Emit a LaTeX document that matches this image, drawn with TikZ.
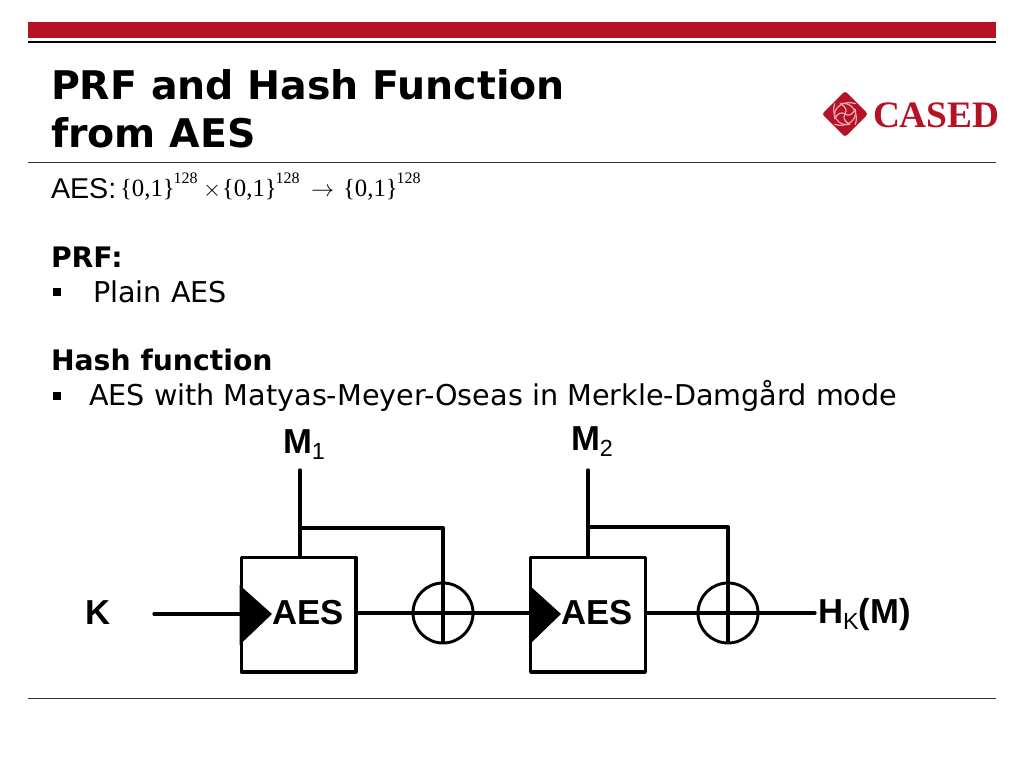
\documentclass[tikz,border=0pt]{standalone}
\usepackage{fontspec}
\setmainfont{DejaVu Sans}
\newfontfamily\ars{Liberation Sans}
\newfontfamily\tms{Liberation Serif}
\definecolor{casedred}{HTML}{B51225}
\definecolor{rulegray}{HTML}{333333}
\tikzset{
  txt/.style={anchor=base west,inner sep=0pt,outer sep=0pt,text=black},
  title/.style={txt,font=\fontsize{29.6}{35}\selectfont\bfseries},
  body/.style={txt,font=\fontsize{21.5}{26}\selectfont},
  bodyb/.style={txt,font=\fontsize{21.2}{26}\selectfont\bfseries},
  lab/.style={txt,font=\ars\fontsize{26}{31}\selectfont\bfseries},
  mathfont/.style={txt,font=\tms\fontsize{18.6}{23}\selectfont},
  supfont/.style={txt,font=\tms\fontsize{12}{14}\selectfont},
  wire/.style={line width=2.5pt,line cap=round,line join=round},
  aesbox/.style={draw,line width=2.5pt,minimum width=86pt,minimum height=86pt,inner sep=0pt,line join=round},
  xorc/.style={draw,circle,line width=2.2pt,minimum size=45pt,inner sep=0pt},
  bull/.style={fill=black,inner sep=0pt,minimum size=6pt},
  swirl/.style={white!65!casedred,line width=0.9pt,line cap=round},
}
\newcommand{\subtxt}[1]{\raisebox{-5pt}{\fontsize{17.5}{21}\selectfont\mdseries #1}}
\begin{document}
\begin{tikzpicture}[x=0.75pt,y=-0.75pt]
\useasboundingbox (0,0) rectangle (1024,768);
% header
\fill[casedred] (28,22) rectangle (996,38);
\fill[black] (28,41) rectangle (996,43);
\draw[rulegray,line width=0.75pt] (28,162) -- (996,162);
\draw[rulegray,line width=0.75pt] (28,698) -- (996,698);
% title
\node[title] (t1) at (51,99) {PRF and Hash Function};
\node[title] (t2) at (51,147) {from AES};
% logo
\fill[casedred,rounded corners=2pt] (845,91) -- (868,114) -- (845,137) -- (822,114) -- cycle;
\foreach \a in {0,90,180,270}{
  \begin{scope}[shift={(845,114)},rotate=\a,scale=1.15]
    \draw[swirl] (-9,4) .. controls (-11,-7) and (0,-12) .. (9,-9);
    \draw[swirl] (-9,4) .. controls (-6,-1) and (-3,-2) .. (0,0);
  \end{scope}
}
\node[txt,font=\tms\fontsize{28}{34}\selectfont\bfseries,text=casedred] (logo) at (873,127) {CASED};
% AES line
\node[txt,font=\ars\fontsize{21.5}{26}\selectfont] (aes) at (51,198) {AES:};
\node[mathfont] (f1) at (120,196) {\{0,1\}};
\node[supfont] (s1) at (173.5,183) {128};
\node[mathfont] (x) at (203,196) {$\times$};
\node[mathfont] (f2) at (222,196) {\{0,1\}};
\node[supfont] (s2) at (275.5,183) {128};
\node[mathfont] (ar) at (311,196) {$\rightarrow$};
\node[mathfont] (f3) at (343,196) {\{0,1\}};
\node[supfont] (s3) at (396.5,183) {128};
% body
\node[bodyb] (prf) at (51,267) {PRF:};
\node[bull] (b1) at (56.7,292) {};
\node[body] (plain) at (93,302) {Plain AES};
\node[bodyb] (hash) at (51,370) {Hash function};
\node[bull] (b2) at (56.7,396) {};
\node[body] (mm) at (89,405) {AES with Matyas-Meyer-Oseas in Merkle-Damgård mode};
% diagram
\node[aesbox] (A1) at (298.5,614.5) {};
\node[aesbox] (A2) at (588,614.5) {};
\node[xorc] (X1) at (443,613) {};
\node[xorc] (X2) at (728,613) {};
\fill (A1.west |- 0,585) -- (272,614) -- (A1.west |- 0,645) -- cycle;
\fill (A2.west |- 0,585) -- (561,614) -- (A2.west |- 0,645) -- cycle;
\node[lab] (aes1) at (272,624) {AES};
\node[lab] (aes2) at (561,624) {AES};
\node[lab] (K) at (85,624) {K};
\node[lab] (M1) at (283,453) {M\subtxt{1}};
\node[lab] (M2) at (571,450) {M\subtxt{2}};
\node[lab] (H) at (818,623) {H\subtxt{K}(M)};
\coordinate (k0) at (154,614);
\coordinate (m1t) at (300,470);
\coordinate (m2t) at (588,470);
\coordinate (j1) at (300,528);
\coordinate (j2) at (588,527);
\coordinate (out) at (815,613);
\draw[wire] (k0) -- (A1.west |- k0);
\draw[wire] (m1t) -- (m1t |- A1.north);
\draw[wire] (m2t) -- (m2t |- A2.north);
\draw[wire] (j1) -| (X1.north);
\draw[wire] (j2) -| (X2.north);
\draw[wire] (A1.east |- X1) -- (X1.west);
\draw[wire] (X1.east) -- (A2.west |- X1);
\draw[wire] (A2.east |- X2) -- (X2.west);
\draw[wire] (X2.east) -- (out);
\draw[line width=2.5pt] (X1.north) -- (X1.south) (X1.west) -- (X1.east);
\draw[line width=2.5pt] (X2.north) -- (X2.south) (X2.west) -- (X2.east);
\end{tikzpicture}
\end{document}
